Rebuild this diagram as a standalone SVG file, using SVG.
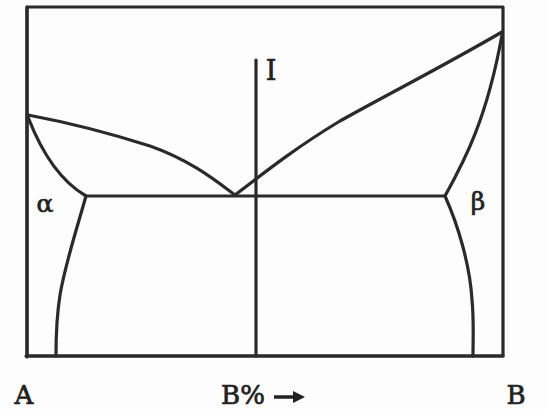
<svg xmlns="http://www.w3.org/2000/svg" width="547" height="409" viewBox="0 0 547 409">
<style>
.ln{fill:none;stroke:#2a2a2a;stroke-width:3.2;stroke-linejoin:round;stroke-linecap:round}
.t{font-family:"DejaVu Serif","Liberation Serif",serif;fill:#222;stroke:#222;stroke-width:0.7}
</style>
<rect width="547" height="409" fill="#fdfdfd"/>
<g id="frame">
<rect x="27" y="7" width="476" height="349" class="ln" stroke-width="2.5"/>
<line x1="27" y1="7" x2="27" y2="357" class="ln" stroke-width="4"/>
<line x1="26" y1="356" x2="503" y2="356" class="ln" stroke-width="3.5"/>
</g>
<g id="connectors">
<path id="liquidus-left" class="ln" d="M28,115 C60,121 100,130 150,146 C190,160 215,180 235,195"/>
<path id="liquidus-right" class="ln" d="M235,195 C270,168 300,145 340,121 C390,93 440,68 502,32"/>
<path id="solidus-left" class="ln" d="M28,117 C38,143 55,178 86,196"/>
<path id="solvus-left" class="ln" d="M86,196 C75,235 65,265 60,295 C56,320 56,340 56,356"/>
<path id="solidus-right" class="ln" d="M445,196 C465,160 487,118 502,35"/>
<path id="solvus-right" class="ln" d="M445,196 C458,225 470,265 472,300 C474,320 473,340 473,356"/>
<line id="eutectic" class="ln" x1="86" y1="196" x2="445" y2="196"/>
<line id="alloy-I" class="ln" x1="256" y1="60" x2="256" y2="356"/>
<path id="arrow" d="M274,397 L296,397" stroke="#222" stroke-width="3.5"/>
<path d="M293,391 L305,397 L293,403 Z" fill="#222"/>
</g>
<g id="labels">
<text class="t" x="271" y="80" font-size="27" text-anchor="middle">I</text>
<text class="t" x="45" y="212" font-size="25" text-anchor="middle">α</text>
<text class="t" x="478" y="210" font-size="25" text-anchor="middle">β</text>
<text class="t" x="24" y="404" font-size="26" text-anchor="middle">A</text>
<text class="t" x="243" y="404" font-size="26" text-anchor="middle">B%</text>
<text class="t" x="516" y="404" font-size="26" text-anchor="middle">B</text>
</g>
</svg>
